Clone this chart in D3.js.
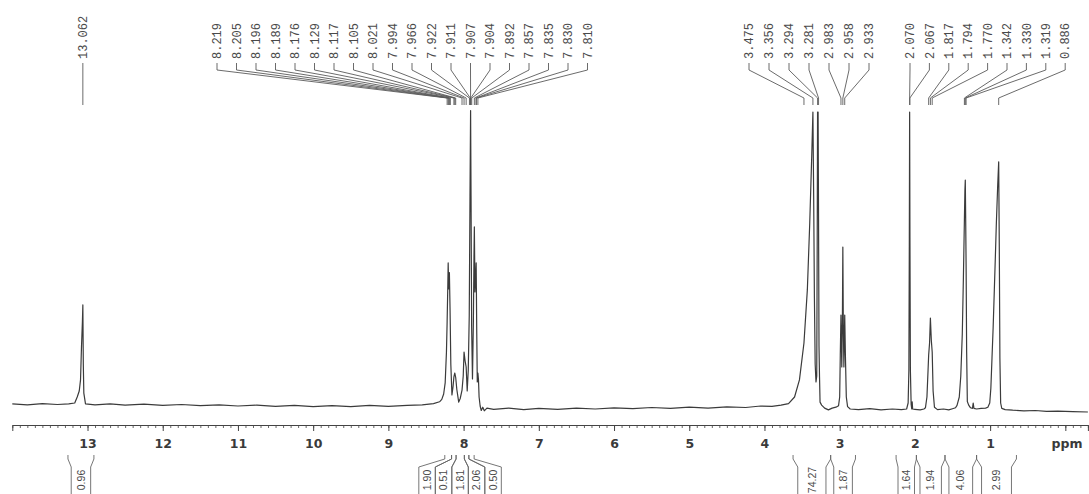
<!DOCTYPE html>
<html>
<head>
<meta charset="utf-8">
<script src="https://cdn.jsdelivr.net/npm/d3@7"></script>
<style>
  body { margin: 0; background: #fff; }
  svg { display: block; }
</style>
</head>
<body>
<svg id="chart" width="1089" height="494"></svg>
<script>
// 1H NMR spectrum: [ppm, relative intensity]
const spectrum = [
  [14.0, 2.7], [13.8, 2.4], [13.6, 2.8], [13.4, 2.5], [13.25, 2.7], [13.17, 3.0],
  [13.137, 5.0], [13.11, 7.0], [13.093, 10.7], [13.08, 21.8], [13.068, 30], [13.062, 35.7],
  [13.056, 16], [13.049, 6.3], [13.027, 2.7], [12.9, 2.4], [12.7, 2.7], [12.5, 2.3],
  [12.25, 2.6], [12.0, 2.2], [11.75, 2.5], [11.5, 2.1], [11.25, 2.4], [11.0, 2.0],
  [10.75, 2.3], [10.5, 1.9], [10.25, 2.2], [10.0, 1.8], [9.75, 2.1], [9.5, 1.8],
  [9.25, 2.2], [9.0, 1.9], [8.75, 2.2], [8.55, 2.4], [8.4, 2.8], [8.32, 3.4],
  [8.29, 4.2], [8.265, 6], [8.245, 9.7], [8.228, 20], [8.219, 30], [8.21, 42],
  [8.205, 49.7], [8.198, 41], [8.189, 46.5], [8.18, 34], [8.17, 16], [8.155, 5.7],
  [8.14, 8.5], [8.129, 11.7], [8.117, 13], [8.105, 11.5], [8.09, 7.5], [8.065, 3.3],
  [8.045, 4.5], [8.021, 7.3], [8.005, 12], [7.994, 20], [7.98, 17], [7.966, 15],
  [7.952, 7], [7.938, 14], [7.925, 32], [7.915, 72], [7.907, 100.5], [7.901, 72],
  [7.893, 28], [7.882, 11], [7.87, 30], [7.862, 52], [7.857, 61.7], [7.849, 40],
  [7.841, 44], [7.833, 49.7], [7.825, 26], [7.818, 10], [7.81, 13], [7.802, 10.7],
  [7.794, 5], [7.78, 2.0], [7.765, 0.5], [7.745, 1.6], [7.725, 0.4], [7.69, 1.3],
  [7.6, 0.9], [7.4, 1.3], [7.2, 0.8], [7.0, 1.2], [6.75, 0.9], [6.5, 1.3],
  [6.25, 1.0], [6.0, 1.4], [5.75, 1.1], [5.5, 1.5], [5.25, 1.2], [5.0, 1.6],
  [4.75, 1.3], [4.5, 1.7], [4.25, 1.5], [4.05, 2.0], [3.9, 1.9], [3.78, 2.3],
  [3.68, 2.8], [3.6, 5.0], [3.535, 10.7], [3.475, 23], [3.43, 40.7], [3.398, 63],
  [3.372, 85], [3.356, 100], [3.346, 72], [3.336, 38], [3.326, 16], [3.315, 10],
  [3.305, 12], [3.299, 55], [3.294, 100], [3.287, 100], [3.281, 64], [3.275, 22],
  [3.268, 11.7], [3.261, 3.3], [3.24, 2.3], [3.2, 1.3], [3.15, 0.7], [3.1, 1.3],
  [3.05, 1.6], [3.015, 2.1], [3.0, 5], [2.992, 19], [2.983, 32.3], [2.972, 15],
  [2.964, 30], [2.958, 55], [2.952, 30], [2.944, 15], [2.933, 32.3], [2.924, 19],
  [2.912, 5], [2.895, 1.8], [2.86, 1.0], [2.75, 0.8], [2.6, 1.1], [2.45, 0.7],
  [2.3, 1.0], [2.18, 0.8], [2.11, 1.0], [2.09, 3], [2.08, 14], [2.074, 58],
  [2.070, 100], [2.066, 58], [2.06, 14], [2.05, 2.5], [2.042, 1.0], [2.036, 3.4],
  [2.03, 1.0], [2.0, 0.9], [1.93, 0.7], [1.88, 1.0], [1.86, 1.4], [1.84, 5],
  [1.825, 14], [1.817, 19], [1.805, 23], [1.794, 31.3], [1.782, 24], [1.770, 20],
  [1.758, 7], [1.74, 1.6], [1.70, 0.8], [1.62, 1.0], [1.55, 0.7], [1.5, 1.1],
  [1.46, 1.4], [1.44, 2.2], [1.41, 5], [1.39, 12], [1.37, 26], [1.355, 45],
  [1.342, 64], [1.335, 74], [1.330, 77.3], [1.324, 62], [1.319, 48], [1.312, 20],
  [1.303, 3.5], [1.285, 2.3], [1.26, 1.4], [1.235, 1.2], [1.225, 3], [1.215, 1.2],
  [1.18, 1.0], [1.12, 1.2], [1.06, 1.3], [1.03, 1.6], [1.005, 3], [0.99, 8],
  [0.975, 18], [0.96, 28], [0.944, 40.7], [0.93, 52], [0.917, 63], [0.9, 75],
  [0.886, 83.4], [0.878, 55], [0.87, 18], [0.86, 3], [0.845, 1.2], [0.8, 0.8],
  [0.7, 0.6], [0.55, 0.4], [0.4, 0.5], [0.25, 0.2], [0.1, 0.3], [-0.1, 0.1], [-0.3, 0.0]
];

// peak picking labels, one list per label block
const peaksAcid = [13.062];
const peaksAromatic = [8.219, 8.205, 8.196, 8.189, 8.176, 8.129, 8.117, 8.105, 8.021, 7.994,
                       7.966, 7.922, 7.911, 7.907, 7.904, 7.892, 7.857, 7.835, 7.830, 7.810];
const peaksMid = [3.475, 3.356, 3.294, 3.281, 2.983, 2.958, 2.933];
const peaksAliphatic = [2.070, 2.067, 1.817, 1.794, 1.770, 1.342, 1.330, 1.319, 0.886];

// integrals: value and ppm range
const integralValues = [0.96, 1.90, 0.51, 1.81, 2.06, 0.50, 74.27, 1.87, 1.64, 1.94, 4.06, 2.99];
const integralFrom   = [13.26, 8.25, 8.16, 8.10, 7.99, 7.93, 3.62, 3.12, 2.25, 1.98, 1.60, 1.18];
const integralTo     = [12.915, 8.16, 8.10, 7.99, 7.93, 7.86, 3.12, 2.79, 1.98, 1.60, 1.18, 0.65];

// labelled axis ticks (the 0 tick carries the unit instead of a number)
const majorTicks = [13, 12, 11, 10, 9, 8, 7, 6, 5, 4, 3, 2, 1, 0];

// ---- layout
const width = 1089, height = 494;
const axisY = 425;

const svg = d3.select("#chart");

var x = d3.scaleLinear().domain([14.0, -0.3]).range([12.3, 1087.9]);
var y = d3.scaleLinear().domain([0, 100]).range([412, 112]);

svg.append("rect")
    .attr("width", width).attr("height", height)
    .attr("fill", "#fff");

// spectrum trace
var genLine = d3.line()
    .x(d => x(d[0]))
    .y(d => y(d[1]));

svg.append("path")
    .datum(spectrum)
    .attr("d", genLine)
    .attr("fill", "none")
    .attr("stroke", "#3b3b3b")
    .attr("stroke-width", 1.2)
    .attr("stroke-linejoin", "round");

// ppm axis: minor ticks every 0.1, labelled majors
var minorTicks = d3.range(-3, 141).map(i => i / 10);

svg.append("g")
    .attr("transform", `translate(0, ${axisY})`)
    .call(d3.axisBottom(x).tickValues(minorTicks).tickSize(3).tickSizeOuter(0).tickFormat(""))
    .call(g => g.select(".domain").attr("stroke", "#444"))
    .call(g => g.selectAll(".tick line").attr("stroke", "#666"));

var xaxis = svg.append("g")
    .attr("transform", `translate(0, ${axisY})`)
    .call(d3.axisBottom(x).tickValues(majorTicks).tickSize(6).tickSizeOuter(6)
            .tickPadding(8).tickFormat(d => d === 0 ? "" : d3.format("d")(d)))
    .attr("font-size", null)
    .attr("font-family", null);

xaxis.select(".domain").attr("stroke", "#444");
xaxis.selectAll(".tick line").attr("stroke", "#444");
xaxis.selectAll(".tick text")
    .attr("font-family", "DejaVu Sans")
    .attr("font-weight", "bold")
    .attr("font-size", 12.5)
    .attr("fill", "#3a3a3a");

svg.append("text")
    .attr("x", 1067).attr("y", axisY + 22.5)
    .attr("text-anchor", "middle")
    .attr("font-family", "DejaVu Sans")
    .attr("font-weight", "bold")
    .attr("font-size", 12.5)
    .attr("fill", "#3a3a3a")
    .text("ppm");

// ---- peak labels with leader lines
const fmt3 = d3.format(".3f");
const labelBlocks = [
    {shifts: peaksAcid, start: null, step: 0},
    {shifts: peaksAromatic, start: 217, step: 19.5},
    {shifts: peaksMid, start: 749, step: 20},
    {shifts: peaksAliphatic, start: 910, step: 19.4}
];

var peakLabels = [];
labelBlocks.forEach(function(b) {
    b.shifts.forEach(function(s, i) {
        var px = x(s);
        var lx = b.start === null ? px : b.start + i * b.step;
        peakLabels.push({shift: s, px: px, lx: lx});
    });
});

var lab = svg.append("g").selectAll("g")
    .data(peakLabels)
    .enter().append("g");

lab.append("path")
    .attr("d", d => `M${d.lx},63V70L${d.px},98V105`)
    .attr("fill", "none")
    .attr("stroke", "#5a5a5a")
    .attr("stroke-width", 0.9);

lab.append("text")
    .attr("transform", d => `translate(${d.lx},59)rotate(-90)`)
    .attr("dy", "0.35em")
    .attr("font-family", "Liberation Mono")
    .attr("font-size", 12)
    .attr("fill", "#4a4a4a")
    .text(d => fmt3(d.shift));

// ---- integrals below the axis
const fmt2 = d3.format(".2f");
var boxes = integralValues.map(function(v, i) {
    var x1 = x(integralFrom[i]), x2 = x(integralTo[i]);
    return {value: v, x1: x1, x2: x2, cx: (x1 + x2) / 2, w: Math.max(16.5, (x2 - x1) * 0.75)};
}).sort((a, b) => a.cx - b.cx);

// spread overlapping boxes side by side around their mean position
var clusters = [];
boxes.forEach(function(b) {
    clusters.push({items: [b], w: b.w, sum: b.cx});
    while (clusters.length > 1) {
        var c = clusters[clusters.length - 1], p = clusters[clusters.length - 2];
        var cLeft = c.sum / c.items.length - c.w / 2;
        var pRight = p.sum / p.items.length + p.w / 2;
        if (pRight <= cLeft) break;
        p.items = p.items.concat(c.items);
        p.w += c.w;
        p.sum += c.sum;
        clusters.pop();
    }
});
clusters.forEach(function(c) {
    var left = c.sum / c.items.length - c.w / 2;
    c.items.forEach(function(b) {
        b.left = left;
        b.right = left + b.w;
        b.mid = left + b.w / 2;
        left += b.w;
    });
});

var integ = svg.append("g").selectAll("g")
    .data(boxes)
    .enter().append("g");

integ.append("path")
    .attr("d", d => `M${d.x1},455V459L${d.left},467V500M${d.x2},455V459L${d.right},467V500`)
    .attr("fill", "none")
    .attr("stroke", "#666")
    .attr("stroke-width", 0.9);

integ.append("text")
    .attr("transform", d => `translate(${d.mid},480)rotate(-90)`)
    .attr("dy", "0.35em")
    .attr("text-anchor", "middle")
    .attr("font-family", "Liberation Sans")
    .attr("font-size", 10.5)
    .attr("fill", "#4a4a4a")
    .text(d => fmt2(d.value));
</script>
</body>
</html>
